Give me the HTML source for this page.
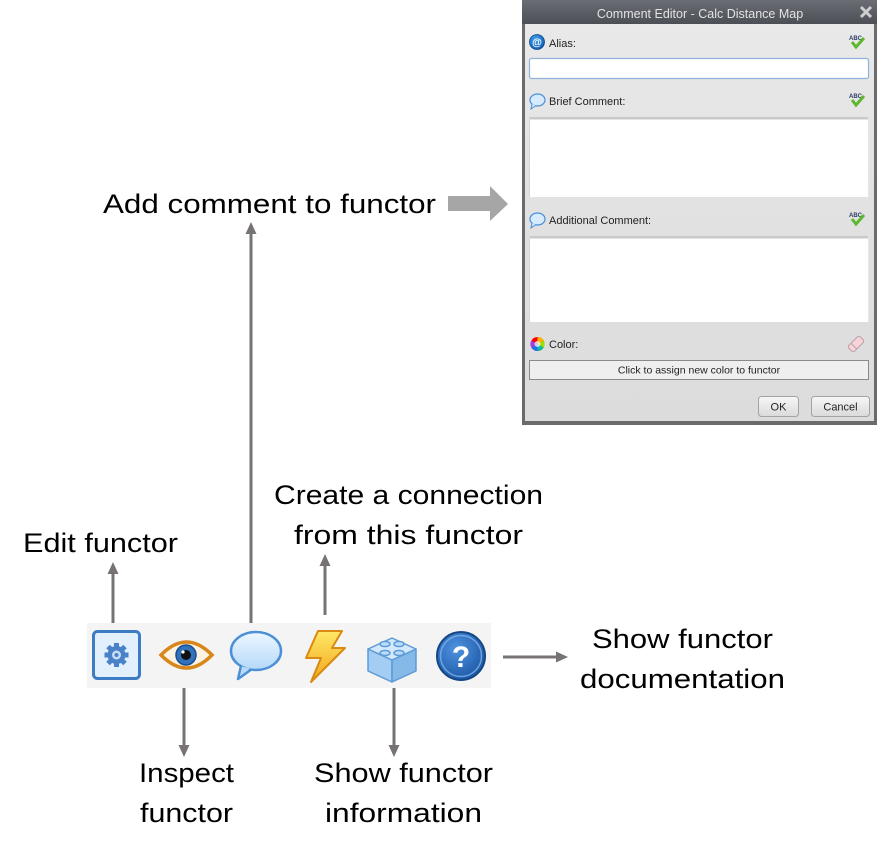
<!DOCTYPE html>
<html>
<head>
<meta charset="utf-8">
<style>
  html,body{margin:0;padding:0;background:#fff;}
  body{width:877px;height:852px;overflow:hidden;position:relative;}
  svg{position:absolute;left:0;top:0;}
  .lbl{font-family:"Liberation Sans",sans-serif;font-size:27px;fill:#000;}
  .dlg{font-family:"Liberation Sans",sans-serif;font-size:11px;fill:#222;}
</style>
</head>
<body>
<svg width="877" height="852" viewBox="0 0 877 852" xmlns="http://www.w3.org/2000/svg">
  <defs>
    <linearGradient id="metal" x1="0" y1="0" x2="0" y2="1">
      <stop offset="0" stop-color="#e9e9e9"/>
      <stop offset="0.5" stop-color="#e1e1e1"/>
      <stop offset="1" stop-color="#dcdcdc"/>
    </linearGradient>
    <linearGradient id="title" x1="0" y1="0" x2="0" y2="1">
      <stop offset="0" stop-color="#6a6e74"/>
      <stop offset="1" stop-color="#4c5056"/>
    </linearGradient>
    <linearGradient id="btn" x1="0" y1="0" x2="0" y2="1">
      <stop offset="0" stop-color="#f7f7f7"/>
      <stop offset="1" stop-color="#dadada"/>
    </linearGradient>
    <linearGradient id="bub" x1="0" y1="0" x2="0" y2="1">
      <stop offset="0" stop-color="#eef7ff"/>
      <stop offset="1" stop-color="#b4d8f8"/>
    </linearGradient>
    <linearGradient id="bolt" x1="0" y1="0" x2="0" y2="1">
      <stop offset="0" stop-color="#ffe866"/>
      <stop offset="1" stop-color="#f2a51c"/>
    </linearGradient>
    <radialGradient id="qc" cx="0.4" cy="0.35" r="0.7">
      <stop offset="0" stop-color="#4f93e0"/>
      <stop offset="1" stop-color="#1b56a4"/>
    </radialGradient>
    <radialGradient id="atg" cx="0.4" cy="0.35" r="0.7">
      <stop offset="0" stop-color="#4aa3f0"/>
      <stop offset="1" stop-color="#0d5bb0"/>
    </radialGradient>
  </defs>

  <!-- ============ Comment Editor dialog ============ -->
  <rect x="522" y="0" width="355" height="425" fill="#6b6b6b"/>
  <rect x="522" y="0" width="355" height="24" fill="url(#title)"/>
  <rect x="525" y="24" width="349" height="397" fill="url(#metal)"/>
  <text x="700" y="18" text-anchor="middle" font-family="Liberation Sans, sans-serif" font-size="12.5" fill="#e2e2e2">Comment Editor - Calc Distance Map</text>
  <line x1="861" y1="7" x2="871" y2="17" stroke="#cfcfcf" stroke-width="3"/>
  <line x1="871" y1="7" x2="861" y2="17" stroke="#cfcfcf" stroke-width="3"/>

  <!-- Alias -->
  <circle cx="537" cy="42" r="7.5" fill="url(#atg)" stroke="#0b4a90" stroke-width="0.8"/>
  <text x="537" y="45.5" text-anchor="middle" font-family="Liberation Sans, sans-serif" font-size="10" font-weight="bold" fill="#fff">@</text>
  <text class="dlg" x="549" y="47">Alias:</text>
  <g>
    <text x="849" y="40" font-family="Liberation Sans, sans-serif" font-size="6" font-weight="bold" fill="#2d3b66">ABC</text>
    <path d="M852,42 L856,47 L864,38" fill="none" stroke="#5cb82e" stroke-width="3"/>
  </g>
  <rect x="529.5" y="58.5" width="339" height="20" rx="2" fill="#fff" stroke="#8fb2da" stroke-width="1.2"/>

  <!-- Brief Comment -->
  <g>
    <ellipse cx="537.5" cy="100" rx="7.5" ry="6" fill="#d6ebfd" stroke="#4a8fd6" stroke-width="1.2"/>
    <path d="M532,104 L531,109 L536,105.5" fill="#d6ebfd" stroke="#4a8fd6" stroke-width="1"/>
  </g>
  <text class="dlg" x="549" y="105">Brief Comment:</text>
  <g>
    <text x="849" y="98" font-family="Liberation Sans, sans-serif" font-size="6" font-weight="bold" fill="#2d3b66">ABC</text>
    <path d="M852,100 L856,105 L864,96" fill="none" stroke="#5cb82e" stroke-width="3"/>
  </g>
  <rect x="529" y="117" width="340" height="80" fill="#fff"/>
  <rect x="529" y="117" width="340" height="2.5" fill="#c9c9c9"/>
  <rect x="529" y="117" width="1" height="80" fill="#d6d6d6"/>
  <rect x="868" y="117" width="1" height="80" fill="#e6e6e6"/>

  <!-- Additional Comment -->
  <g>
    <ellipse cx="537.5" cy="219" rx="7.5" ry="6" fill="#d6ebfd" stroke="#4a8fd6" stroke-width="1.2"/>
    <path d="M532,223 L531,228 L536,224.5" fill="#d6ebfd" stroke="#4a8fd6" stroke-width="1"/>
  </g>
  <text class="dlg" x="549" y="224">Additional Comment:</text>
  <g>
    <text x="849" y="217" font-family="Liberation Sans, sans-serif" font-size="6" font-weight="bold" fill="#2d3b66">ABC</text>
    <path d="M852,219 L856,224 L864,215" fill="none" stroke="#5cb82e" stroke-width="3"/>
  </g>
  <rect x="529" y="236" width="340" height="86" fill="#fff"/>
  <rect x="529" y="236" width="340" height="2.5" fill="#c9c9c9"/>
  <rect x="529" y="236" width="1" height="86" fill="#d6d6d6"/>
  <rect x="868" y="236" width="1" height="86" fill="#e6e6e6"/>

  <!-- Color -->
  <g>
    <circle cx="537.5" cy="344" r="7" fill="#f00"/>
    <path d="M537.5,344 L537.5,337 A7,7 0 0,1 543.6,340.5 Z" fill="#ffb400"/>
    <path d="M537.5,344 L543.6,340.5 A7,7 0 0,1 543.6,347.5 Z" fill="#9be000"/>
    <path d="M537.5,344 L543.6,347.5 A7,7 0 0,1 537.5,351 Z" fill="#00c0a0"/>
    <path d="M537.5,344 L537.5,351 A7,7 0 0,1 531.4,347.5 Z" fill="#2a6af0"/>
    <path d="M537.5,344 L531.4,347.5 A7,7 0 0,1 531.4,340.5 Z" fill="#a040e0"/>
    <circle cx="537.5" cy="344" r="3" fill="#fff" opacity="0.7"/>
  </g>
  <text class="dlg" x="549" y="348">Color:</text>
  <g transform="rotate(-45 856 344)">
    <rect x="848" y="340" width="16" height="8" rx="2" fill="#f7d4da" stroke="#b9a0a6" stroke-width="1"/>
    <line x1="853" y1="340" x2="853" y2="348" stroke="#b9a0a6" stroke-width="1"/>
  </g>
  <rect x="529.5" y="360.5" width="339" height="19" fill="#efefef" stroke="#8a8a8a" stroke-width="1"/>
  <text x="699" y="373.5" text-anchor="middle" font-family="Liberation Sans, sans-serif" font-size="10.5" fill="#222">Click to assign new color to functor</text>

  <!-- Buttons -->
  <rect x="758.5" y="396.5" width="40" height="20" rx="3" fill="url(#btn)" stroke="#a3a3a3"/>
  <text x="778.5" y="410.5" text-anchor="middle" font-family="Liberation Sans, sans-serif" font-size="11" fill="#222">OK</text>
  <rect x="811.5" y="396.5" width="58" height="20" rx="3" fill="url(#btn)" stroke="#a3a3a3"/>
  <text x="840.5" y="410.5" text-anchor="middle" font-family="Liberation Sans, sans-serif" font-size="11" fill="#222">Cancel</text>

  <!-- ============ Big block arrow ============ -->
  <polygon points="448,196 490,196 490,186 508,204 490,221 490,211 448,211" fill="#a6a6a6"/>

  <!-- ============ Labels ============ -->
  <text class="lbl" x="103" y="213" textLength="333" lengthAdjust="spacingAndGlyphs">Add comment to functor</text>
  <text class="lbl" x="23" y="552" textLength="155" lengthAdjust="spacingAndGlyphs">Edit functor</text>
  <text class="lbl" x="274" y="504" textLength="269" lengthAdjust="spacingAndGlyphs">Create a connection</text>
  <text class="lbl" x="294" y="544" textLength="229" lengthAdjust="spacingAndGlyphs">from this functor</text>
  <text class="lbl" x="139" y="782" textLength="95" lengthAdjust="spacingAndGlyphs">Inspect</text>
  <text class="lbl" x="140" y="822" textLength="93" lengthAdjust="spacingAndGlyphs">functor</text>
  <text class="lbl" x="314" y="782" textLength="179" lengthAdjust="spacingAndGlyphs">Show functor</text>
  <text class="lbl" x="325" y="822" textLength="157" lengthAdjust="spacingAndGlyphs">information</text>
  <text class="lbl" x="592" y="648" textLength="181" lengthAdjust="spacingAndGlyphs">Show functor</text>
  <text class="lbl" x="580" y="688" textLength="205" lengthAdjust="spacingAndGlyphs">documentation</text>

  <!-- ============ Connector arrows ============ -->
  <g stroke="#777373" stroke-width="3" fill="none">
    <line x1="113" y1="623" x2="113" y2="572"/>
    <line x1="251" y1="623" x2="251" y2="232"/>
    <line x1="325" y1="615" x2="325" y2="564"/>
    <line x1="184" y1="688" x2="184" y2="747"/>
    <line x1="394" y1="688" x2="394" y2="747"/>
    <line x1="503" y1="657" x2="558" y2="657"/>
  </g>
  <g fill="#777373">
    <polygon points="113,562 107.5,574 118.5,574"/>
    <polygon points="251,222 245.5,234 256.5,234"/>
    <polygon points="325,554 319.5,566 330.5,566"/>
    <polygon points="184,757 178.5,745 189.5,745"/>
    <polygon points="394,757 388.5,745 399.5,745"/>
    <polygon points="568,657 556,651.5 556,662.5"/>
  </g>

  <!-- ============ Toolbar ============ -->
  <rect x="87" y="623" width="404" height="65" fill="#f4f4f4"/>

  <!-- gear -->
  <rect x="93.5" y="631.5" width="46" height="47" rx="4" fill="#e2f0fd" stroke="#3d7cc4" stroke-width="3"/>
  <g transform="translate(116.5 655)" fill="#4a82c9">
    <rect x="-2.5" y="-12" width="5" height="24"/>
    <rect x="-2.5" y="-12" width="5" height="24" transform="rotate(45)"/>
    <rect x="-2.5" y="-12" width="5" height="24" transform="rotate(90)"/>
    <rect x="-2.5" y="-12" width="5" height="24" transform="rotate(135)"/>
    <circle r="9"/>
    <circle r="4.5" fill="#c9def4"/>
    <circle r="2" fill="#4a82c9"/>
  </g>

  <!-- eye -->
  <path d="M161,655 Q186.5,629 212,655 Q186.5,681 161,655 Z" fill="#fdf3e2" stroke="#d8871a" stroke-width="3.5"/>
  <circle cx="186" cy="655" r="10" fill="#3072bb" stroke="#1b4f8f" stroke-width="1.5"/>
  <circle cx="186" cy="655" r="5" fill="#111"/>
  <circle cx="183" cy="652" r="1.6" fill="#fff"/>

  <!-- speech bubble -->
  <path d="M241,666 L238,679 L252,669" fill="#b9dbf9" stroke="#4b8fd6" stroke-width="2.5" stroke-linejoin="round"/>
  <ellipse cx="256" cy="651" rx="25" ry="19" fill="url(#bub)" stroke="#4b8fd6" stroke-width="2.5"/>
  <path d="M242,666.5 L240,676 L250,668.5 Z" fill="#b9dbf9"/>

  <!-- lightning -->
  <path d="M318,631 L342,631 L332,648 L345,648 L311,682 L321,658 L306,658 Z" fill="url(#bolt)" stroke="#d98a10" stroke-width="2" stroke-linejoin="round"/>

  <!-- lego block -->
  <g stroke="#5d9bd6" stroke-width="1.5" stroke-linejoin="round">
    <polygon points="368,649 392,660 392,682 368,671" fill="#a3cdf2"/>
    <polygon points="392,660 416,649 416,671 392,682" fill="#85b9e8"/>
    <polygon points="392,638 416,649 392,660 368,649" fill="#d2e8fb"/>
    <ellipse cx="385" cy="644" rx="5" ry="2.5" fill="#bcdcf8"/>
    <ellipse cx="399" cy="644" rx="5" ry="2.5" fill="#bcdcf8"/>
    <ellipse cx="385" cy="653" rx="5" ry="2.5" fill="#bcdcf8"/>
    <ellipse cx="399" cy="653" rx="5" ry="2.5" fill="#bcdcf8"/>
  </g>

  <!-- question -->
  <circle cx="461" cy="656" r="24" fill="url(#qc)" stroke="#154784" stroke-width="2"/>
  <circle cx="461" cy="656" r="20.5" fill="none" stroke="#7fb3ea" stroke-width="1.5" opacity="0.8"/>
  <text x="461" y="667" text-anchor="middle" font-family="Liberation Sans, sans-serif" font-size="30" font-weight="bold" fill="#fff">?</text>
</svg>
</body>
</html>
